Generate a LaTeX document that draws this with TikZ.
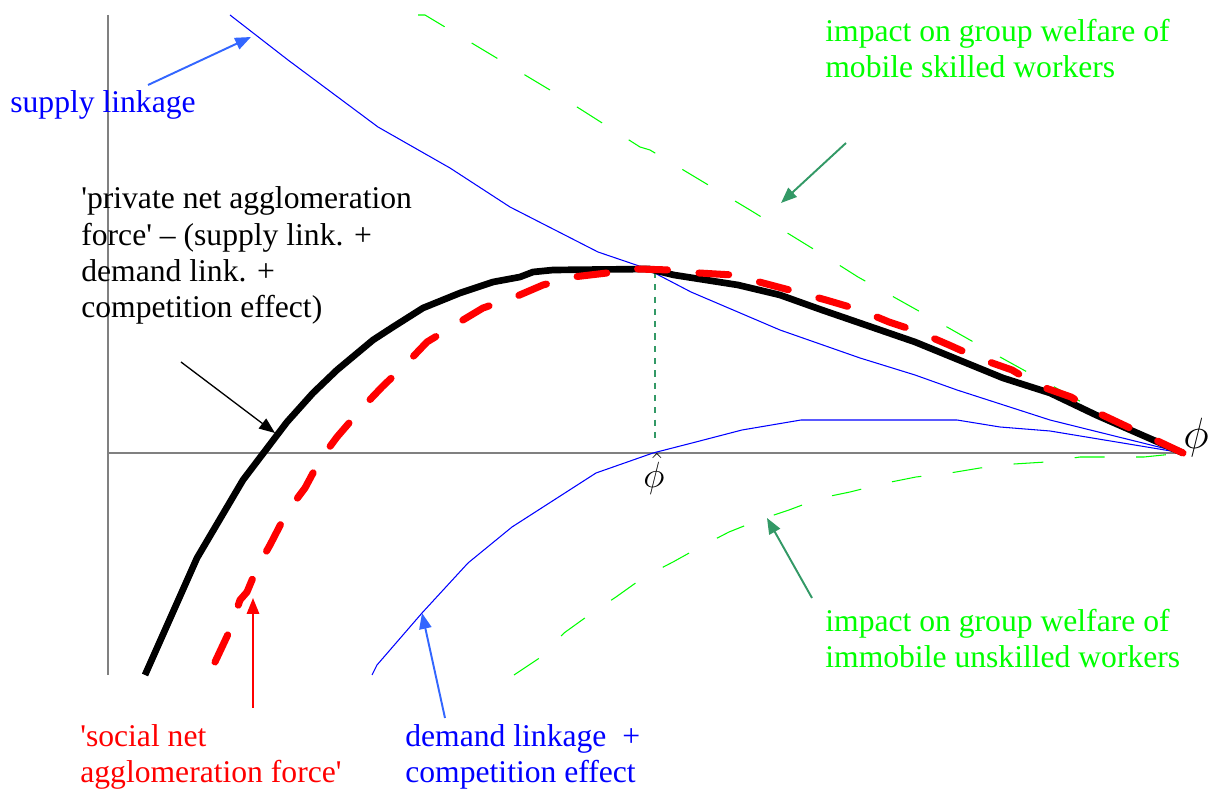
\documentclass[tikz,border=0pt]{standalone}
\usepackage{fontspec}
\setmainfont{Liberation Serif}
\usepackage{amsmath}
\usetikzlibrary{arrows.meta}

\definecolor{axisgray}{RGB}{128,128,128}
\definecolor{arrowblue}{RGB}{51,102,255}
\definecolor{seagreen}{RGB}{51,153,102}
\definecolor{brightgreen}{RGB}{0,255,0}

\begin{document}
\begin{tikzpicture}[x=0.02cm,y=-0.02cm,line join=round,
  >={Triangle[length=9pt,width=7pt]},
  lbl/.style={anchor=base west,inner sep=0pt,align=left,font=\fontsize{18}{20.7}\selectfont},
  axis/.style={draw=axisgray,line width=0.8pt},
  thinblue/.style={draw=blue,line width=0.6pt},
  greendash/.style={draw=brightgreen,line width=0.6pt,dash pattern=on 17pt off 18pt},
  pointer/.style={->,line width=1.1pt}]
\useasboundingbox (0,0) rectangle (1208,793);

% axes
\coordinate (O) at (108,453);
\coordinate (ytop) at (108,15);
\coordinate (ybot) at (108,675);
\coordinate (xend) at (1183,453);
\draw[axis] (ytop) -- (ybot);
\draw[axis] (O) -- (xend);

% supply linkage
\draw[thinblue] (230,15) -- (288,60) -- (378,127) -- (450,168) -- (510,207) -- (598,252)
  -- (645,268) -- (691,292) -- (780,330) -- (860,358) -- (915,375) -- (957,390)
  -- (1050,420) -- (xend);
% demand linkage + competition effect
\draw[thinblue] (372,675) -- (377,665) -- (422,613) -- (468,563) -- (512,527) -- (596,473)
  -- (653,453) -- (692,443) -- (742,430) -- (801,420) -- (957,420) -- (1000,427)
  -- (1050,431) -- (xend);

% welfare of skilled / unskilled workers
\draw[greendash] (418,15) -- (425,15) -- (475,45) -- (555,93) -- (640,147) -- (650,150)
  -- (750,210) -- (828,258) -- (858,277) -- (917,310) -- (1000,357) -- (1087,405)
  -- (1144,435) -- (xend);
\draw[greendash] (514,675) -- (541,657) -- (564,633) -- (589,615) -- (616,597) -- (644,577)
  -- (673,562) -- (700,547) -- (729,532) -- (759,520) -- (789,510) -- (821,498)
  -- (850,492) -- (886,483) -- (916,477) -- (950,473) -- (980,468) -- (1014,464)
  -- (1046,462) -- (1080,457) -- (1144,457) -- (xend);

% peak marker
\coordinate (peak) at (655,272);
\coordinate (peakfoot) at (655,440);
\draw[seagreen,line width=0.7pt,dash pattern=on 3.5pt off 3.5pt] (peak) -- (peakfoot);

% private net agglomeration force
\draw[black,line width=3.8pt] (145,675) -- (197,558) -- (243,480) -- (287,422) -- (313,393)
  -- (337,370) -- (373,340) -- (393,327) -- (423,308) -- (460,293) -- (493,282)
  -- (520,277) -- (533,272) -- (553,270) -- (649,269) -- (674,275) -- (738,285)
  -- (780,295) -- (822,310) -- (915,342) -- (1003,378) -- (1050,393) -- (1096,415)
  -- (xend);
% social net agglomeration force
\draw[red,line width=4pt,line cap=round,dash pattern=on 17pt off 18pt]
  (215,662) -- (230,630) -- (240,600) -- (247,592) -- (257,568) -- (270,545)
  -- (287,512) -- (305,488) -- (320,460) -- (337,437) -- (362,408) -- (382,387)
  -- (407,363) -- (427,342) -- (458,323) -- (483,308) -- (515,297) -- (543,285)
  -- (573,277) -- (607,273) -- (623,268) -- (638,269) -- (670,270) -- (699,273)
  -- (733,275) -- (763,283) -- (797,292) -- (826,300) -- (860,310) -- (889,322)
  -- (919,332) -- (949,345) -- (978,358) -- (1012,370) -- (1037,385) -- (1071,397)
  -- (1096,412) -- (1130,428) -- (xend);

% labels (base = last line)
\node[lbl,text=blue] (supply) at (10,113) {supply linkage};
\node[lbl] (private) at (81,318) {\textquotesingle private net agglomeration\\force\textquotesingle{} -- (supply link. +\\demand link. +\\competition effect)};
\node[lbl,text=red] (social) at (80,783) {\textquotesingle social net\\agglomeration force\textquotesingle};
\node[lbl,text=blue] (demand) at (405,783) {demand linkage\ \ +\\competition effect};
\node[lbl,text=brightgreen] (mobile) at (825,78) {impact on group welfare of\\mobile skilled workers};
\node[lbl,text=brightgreen] (immobile) at (825,668) {impact on group welfare of\\immobile unskilled workers};
\node[anchor=base,inner sep=0pt,font=\fontsize{20.74}{24}\selectfont] (phihat) at (654,488) {$\hat{\phi}$};
\node[anchor=base,inner sep=0pt,font=\fontsize{28}{32}\selectfont] (phi) at (1196,449) {$\phi$};

% pointers
\coordinate (sa) at (148,85);   \coordinate (sb) at (251,37);
\coordinate (pa) at (181,362);  \coordinate (pb) at (275,433);
\coordinate (ra) at (253,708);  \coordinate (rb) at (253,598);
\coordinate (da) at (445,718);  \coordinate (db) at (422,613);
\coordinate (ma) at (846,143);  \coordinate (mb) at (781,203);
\coordinate (ia) at (812,598);  \coordinate (ib) at (767,518);
\draw[pointer,arrowblue] (sa) -- (sb);
\draw[pointer,black,line width=0.75pt] (pa) -- (pb);
\draw[pointer,red] (ra) -- (rb);
\draw[pointer,arrowblue] (da) -- (db);
\draw[pointer,seagreen] (ma) -- (mb);
\draw[pointer,seagreen] (ia) -- (ib);
\end{tikzpicture}
\end{document}
